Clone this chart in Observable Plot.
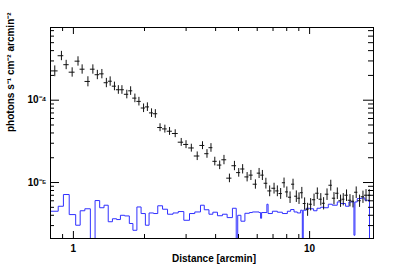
<!DOCTYPE html>
<html><head><meta charset="utf-8">
<script src="https://cdn.jsdelivr.net/npm/d3@7"></script>
<script src="https://cdn.jsdelivr.net/npm/@observablehq/plot@0.6"></script>
<style>html,body{margin:0;padding:0;background:#fff;}</style>
</head><body><div id="chart"></div>
<script>
// Radial surface-brightness profile (black crosses)
const distance = [0.834,0.890,0.932,0.988,1.046,1.089,1.152,1.209,1.263,1.320,
  1.379,1.431,1.492,1.550,1.605,1.683,1.747,1.821,1.894,1.982,
  2.057,2.142,2.223,2.327,2.439,2.553,2.698,2.861,2.998,3.157,
  3.343,3.520,3.677,3.823,3.968,4.162,4.340,4.577,4.806,5.011,
  5.205,5.438,5.642,5.895,6.111,6.310,6.529,6.775,7.071,7.302,
  7.540,7.794,8.009,8.264,8.507,8.785,9.019,9.268,9.525,9.806,
  10.10,10.44,10.78,11.15,11.46,11.85,12.29,12.68,13.10,13.52,
  13.88,14.33,14.82,15.26,15.75,16.27,16.82,17.33,17.88];
const brightness = [2.27e-4,3.47e-4,2.70e-4,2.19e-4,2.98e-4,2.38e-4,1.69e-4,2.38e-4,2.04e-4,2.09e-4,
  1.63e-4,1.70e-4,1.48e-4,1.34e-4,1.34e-4,1.18e-4,1.30e-4,1.06e-4,9.67e-5,8.04e-5,
  8.29e-5,7.01e-5,6.85e-5,4.66e-5,4.48e-5,4.20e-5,3.94e-5,3.09e-5,2.90e-5,2.63e-5,
  2.10e-5,2.82e-5,2.24e-5,2.65e-5,1.81e-5,1.63e-5,1.89e-5,1.13e-5,1.60e-5,1.32e-5,
  1.46e-5,1.17e-5,1.23e-5,9.54e-6,1.30e-5,1.23e-5,9.80e-6,7.91e-6,8.52e-6,7.91e-6,
  7.35e-6,9.94e-6,7.69e-6,6.63e-6,9.54e-6,6.82e-6,6.45e-6,7.52e-6,5.56e-6,4.74e-6,
  5.45e-6,6.18e-6,7.41e-6,6.27e-6,5.60e-6,7.21e-6,9.27e-6,6.45e-6,7.41e-6,6.01e-6,
  6.27e-6,7.01e-6,6.09e-6,5.93e-6,7.62e-6,6.01e-6,6.72e-6,7.01e-6,7.01e-6];
// relative 1-sigma errors
const relError = [0.15,0.13,0.13,0.13,0.13,0.13,0.14,0.13,0.13,0.13,
  0.13,0.13,0.12,0.12,0.12,0.12,0.12,0.12,0.12,0.12,
  0.12,0.12,0.12,0.11,0.11,0.11,0.11,0.11,0.11,0.11,
  0.12,0.11,0.12,0.12,0.12,0.12,0.13,0.12,0.13,0.12,
  0.13,0.13,0.14,0.13,0.14,0.14,0.15,0.15,0.15,0.15,
  0.15,0.14,0.15,0.16,0.15,0.16,0.16,0.16,0.17,0.18,
  0.17,0.17,0.16,0.17,0.17,0.16,0.15,0.17,0.16,0.17,
  0.17,0.16,0.17,0.17,0.16,0.17,0.17,0.17,0.17];
const firstBinEdge = 0.8;

// Background histogram (blue): bin edges (n+1) and values (n)
const bgEdges = [0.80,0.8625,0.9073,0.9600,1.0226,1.0684,1.1182,1.1800,1.2353,1.2918,
  1.3482,1.4043,1.4630,1.5240,1.5817,1.6477,1.7248,1.7863,1.8572,1.9346,
  2.0172,2.0911,2.1847,2.2758,2.3847,2.5035,2.6411,2.7782,2.9339,3.1012,
  3.2653,3.4516,3.5815,3.7489,3.8940,4.0725,4.2756,4.4757,4.7126,4.8904,
  4.9624,5.1195,5.3227,5.5611,5.7259,6.1112,6.2012,6.2620,6.5936,6.6710,
  6.9560,7.3030,7.6673,8.0497,8.3123,8.5921,8.8716,9.1615,9.3143,9.3962,
  9.6836,10.000,10.397,10.747,11.130,11.538,11.996,12.472,13.094,13.522,
  14.197,14.675,15.405,15.556,15.908,16.583,17.142,17.927,18.64];
const bgValues = [4.48e-6,5.15e-6,7.15e-6,4.08e-6,3.03e-6,4.54e-6,4.80e-6,0,6.04e-6,4.94e-6,
  5.30e-6,3.34e-6,3.63e-6,3.55e-6,4.00e-6,3.93e-6,3.18e-6,2.63e-6,5.05e-6,4.20e-6,
  3.03e-6,4.27e-6,4.20e-6,5.22e-6,4.74e-6,4.12e-6,4.27e-6,4.44e-6,3.48e-6,4.20e-6,
  4.39e-6,5.30e-6,4.67e-6,4.12e-6,4.36e-6,3.95e-6,4.12e-6,3.75e-6,4.87e-6,0,
  4.00e-6,3.39e-6,4.23e-6,4.32e-6,4.39e-6,4.32e-6,3.68e-6,4.32e-6,5.45e-6,4.20e-6,
  4.48e-6,4.36e-6,4.20e-6,4.48e-6,4.70e-6,4.39e-6,4.27e-6,4.61e-6,0,4.61e-6,
  4.87e-6,4.80e-6,4.54e-6,4.87e-6,5.01e-6,4.94e-6,5.45e-6,5.30e-6,5.81e-6,5.56e-6,
  5.15e-6,5.81e-6,2.29e-6,5.81e-6,6.39e-6,6.50e-6,6.09e-6,0];

const xTicksMajor = [1, 10];
const xTickLabels = ["1", "10"];
const xTicksMinor = [0.9, 2, 3, 4, 5, 6, 7, 8, 9];
const yTicksMajor = [1e-5, 1e-4];
const yTickLabels = ["10\u207B\u2075", "10\u207B\u2074"];
const yTicksMinor = [3e-6,4e-6,5e-6,6e-6,7e-6,8e-6,9e-6,
  2e-5,3e-5,4e-5,5e-5,6e-5,7e-5,8e-5,9e-5,
  2e-4,3e-4,4e-4,5e-4,6e-4,7e-4];
const xTitle = "Distance [arcmin]";
const yTitle = "photons s\u207B\u00B9 cm\u207B\u00B2 arcmin\u207B\u00B2";

const W = 415, H = 271, mL = 50, mR = 42, mT = 27, mB = 33;
const frameW = W - mL - mR, frameH = H - mT - mB;
const floorVal = 1e-7;

const points = distance.map((d, i) => {
  const prev = i > 0 ? distance[i - 1] : null;
  const next = i < distance.length - 1 ? distance[i + 1] : null;
  const xlo = prev ? Math.sqrt(prev * d) : firstBinEdge;
  const xhi = next ? Math.sqrt(next * d) : d * d / Math.sqrt(prev * d);
  const v = brightness[i], e = relError[i];
  return {d, v, lo: v * (1 - e), hi: v * (1 + e), xlo, xhi};
});

const bgLine = [{x: bgEdges[0], y: floorVal}];
bgValues.forEach((v, i) => bgLine.push({x: bgEdges[i], y: v > 0 ? v : floorVal}));
bgLine.push({x: bgEdges[bgEdges.length - 1], y: bgValues[bgValues.length - 1] > 0 ? bgValues[bgValues.length - 1] : floorVal});

const chart = Plot.plot({
  width: W, height: H, marginLeft: mL, marginRight: mR, marginTop: mT, marginBottom: mB,
  style: {fontFamily: "'Liberation Sans', Arial, sans-serif", fontSize: "10px", fontWeight: "bold", background: "#fff", color: "#000"},
  x: {type: "log", domain: [0.8, 18.64], label: null},
  y: {type: "log", domain: [2.09e-6, 7.64e-4], label: null},
  marks: [
    Plot.line(bgLine, {x: "x", y: "y", curve: "step-after", stroke: "#3030ff", strokeWidth: 1, clip: true}),
    Plot.ruleX(points, {x: "d", y1: "lo", y2: "hi", stroke: "#111", strokeWidth: 1, clip: true}),
    Plot.ruleY(points, {y: "v", x1: "xlo", x2: "xhi", stroke: "#111", strokeWidth: 1, clip: true}),
    Plot.tickX(xTicksMinor, {x: d => d, insetTop: frameH - 4, stroke: "#000"}),
    Plot.tickX(xTicksMajor, {x: d => d, insetTop: frameH - 7, stroke: "#000"}),
    Plot.tickX(xTicksMinor, {x: d => d, insetBottom: frameH - 4, stroke: "#000"}),
    Plot.tickX(xTicksMajor, {x: d => d, insetBottom: frameH - 7, stroke: "#000"}),
    Plot.tickY(yTicksMinor, {y: d => d, insetRight: frameW - 4, stroke: "#000"}),
    Plot.tickY(yTicksMajor, {y: d => d, insetRight: frameW - 9, stroke: "#000"}),
    Plot.tickY(yTicksMinor, {y: d => d, insetLeft: frameW - 5, stroke: "#000"}),
    Plot.tickY(yTicksMajor, {y: d => d, insetLeft: frameW - 10, stroke: "#000"}),
    Plot.frame({stroke: "#000", strokeWidth: 1}),
    Plot.axisX(xTicksMajor, {anchor: "bottom", tickSize: 0, tickPadding: 6, label: null,
      tickFormat: d => xTickLabels[xTicksMajor.indexOf(d)]}),
    Plot.axisY(yTicksMajor, {anchor: "left", tickSize: 0, tickPadding: 4, label: null,
      tickFormat: d => yTickLabels[yTicksMajor.indexOf(d)]}),
    Plot.text([xTitle], {frameAnchor: "bottom", text: d => d, dx: 2, dy: 20, lineAnchor: "middle", fontSize: 10, fontWeight: "bold"}),
    Plot.text([yTitle], {frameAnchor: "left", text: d => d, dx: -40, dy: -1, rotate: -90, lineAnchor: "middle", fontSize: 10, fontWeight: "bold"})
  ]
});
document.getElementById("chart").appendChild(chart);
</script>
</body></html>
